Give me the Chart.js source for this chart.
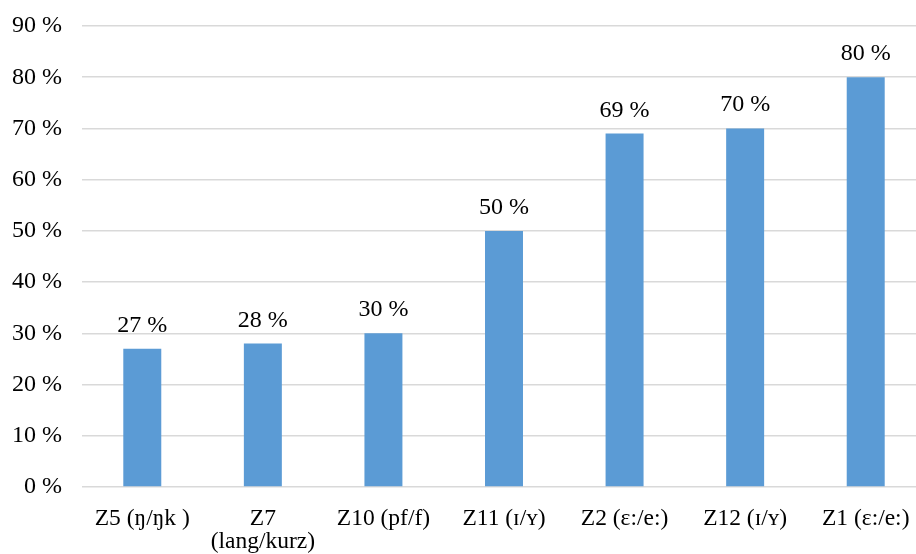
<!DOCTYPE html>
<html>
<head>
<meta charset="utf-8">
<script src="https://cdn.jsdelivr.net/npm/chart.js@4/dist/chart.umd.min.js"></script>
<style>
html,body{margin:0;padding:0;background:#fff;overflow:hidden;}
#wrap{width:926px;height:554px;}
</style>
</head>
<body>
<div id="wrap"><canvas id="c" width="926" height="554"></canvas></div>
<script>
const categories = ["Z5 (ŋ/ŋk )", ["Z7", "(lang/kurz)"], "Z10 (pf/f)", "Z11 (ɪ/ʏ)", "Z2 (ɛ:/e:)", "Z12 (ɪ/ʏ)", "Z1 (ɛ:/e:)"];
const values = [27, 28, 30, 50, 69, 70, 80];
const yTicks = [0, 10, 20, 30, 40, 50, 60, 70, 80, 90];

const FONT = "'Liberation Serif', 'Times New Roman', serif";
const FS = 23.5;

const labelPlugin = {
  id: 'valueLabels',
  afterDatasetsDraw(chart) {
    const ctx = chart.ctx;
    const meta = chart.getDatasetMeta(0);
    ctx.save();
    ctx.font = "24px " + FONT;
    ctx.fillStyle = '#000';
    ctx.textAlign = 'center';
    ctx.textBaseline = 'alphabetic';
    meta.data.forEach((bar, i) => {
      ctx.fillText(values[i] + ' %', bar.x, bar.y - 17);
    });
    ctx.restore();
  }
};

new Chart(document.getElementById('c'), {
  type: 'bar',
  data: {
    labels: categories,
    datasets: [{
      data: values,
      backgroundColor: '#5b9bd5',
      borderWidth: 0,
      barPercentage: 0.315,
      categoryPercentage: 1
    }]
  },
  options: {
    responsive: false,
    animation: false,
    layout: { padding: { left: 0, top: 26, right: 0, bottom: 0 } },
    plugins: { legend: { display: false }, tooltip: { enabled: false } },
    scales: {
      x: {
        grid: { display: false },
        border: { display: false },
        afterFit(scale) { scale.height = 67; scale.paddingLeft = 0; scale.paddingRight = 0; },
        ticks: { color: '#000', font: { family: FONT, size: FS, lineHeight: 1.0 }, padding: 12, maxRotation: 0, autoSkip: false }
      },
      y: {
        min: 0, max: 90,
        afterBuildTicks(scale) { scale.ticks = yTicks.map(v => ({ value: v })); },
        afterFit(scale) { scale.width = 82; scale.paddingTop = 0; scale.paddingBottom = 0; },
        grid: { color: '#d9d9d9', lineWidth: 1.5, drawTicks: false },
        border: { display: false },
        ticks: { color: '#000', font: { family: FONT, size: 24 }, padding: 20, callback: v => v + ' %' }
      }
    }
  },
  plugins: [labelPlugin]
});
</script>
</body>
</html>
